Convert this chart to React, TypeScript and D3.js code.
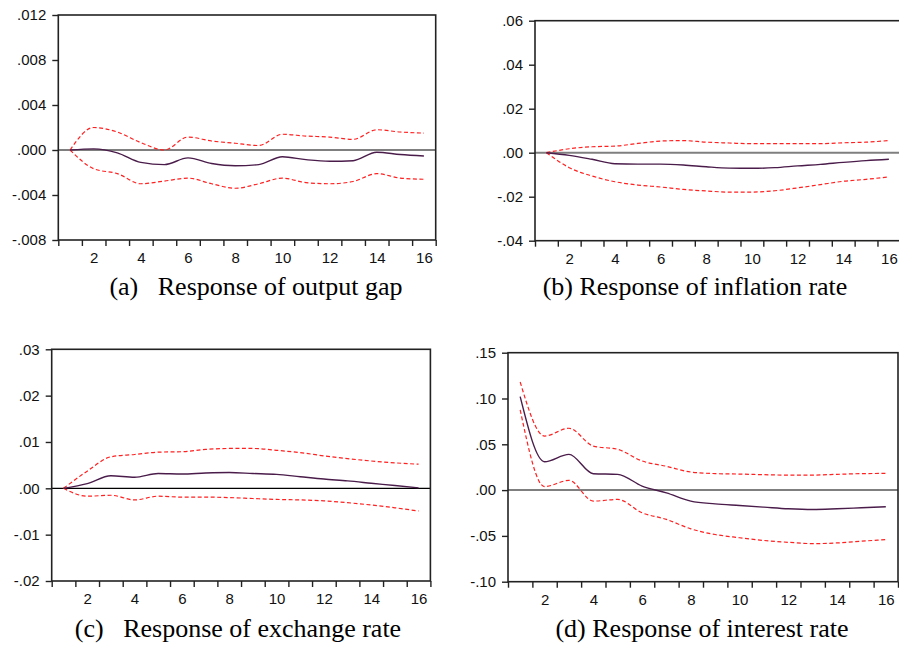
import React, { useRef, useEffect } from 'react';
import * as d3 from 'd3';

// impulse horizon 1..16
const periods = d3.range(1, 17);
const evenTicks = [2, 4, 6, 8, 10, 12, 14, 16];

// (a) output gap
const gapMid = [0, 0.0001, -0.00025, -0.0011, -0.0013, -0.0007, -0.0012, -0.0014, -0.0013, -0.0006, -0.00086, -0.001, -0.00095, -0.0002, -0.0004, -0.00053];
const gapUp = [0, 0.002, 0.0016, 0.00065, 0.0, 0.00115, 0.0008, 0.0006, 0.0004, 0.0014, 0.00124, 0.00115, 0.00095, 0.0018, 0.0016, 0.0015];
const gapLo = [0, -0.00166, -0.0021, -0.003, -0.00276, -0.0025, -0.003, -0.0034, -0.003, -0.0025, -0.0029, -0.003, -0.0028, -0.0021, -0.0025, -0.0026];
const gapTicks = [-0.008, -0.004, 0, 0.004, 0.008, 0.012];

// (b) inflation rate
const infMid = [0, -0.0012, -0.003, -0.005, -0.0052, -0.0052, -0.0056, -0.0064, -0.007, -0.0071, -0.0068, -0.006, -0.0053, -0.0044, -0.0036, -0.003];
const infUp = [0, 0.0018, 0.0027, 0.003, 0.0042, 0.0053, 0.0055, 0.0048, 0.0044, 0.0041, 0.0041, 0.0041, 0.0041, 0.0045, 0.0048, 0.0055];
const infLo = [0, -0.0068, -0.0106, -0.0132, -0.0147, -0.0156, -0.0167, -0.0174, -0.0179, -0.0179, -0.0173, -0.016, -0.0145, -0.013, -0.0121, -0.011];
const infTicks = [-0.04, -0.02, 0, 0.02, 0.04, 0.06];

// (c) exchange rate
const exMid = [0, 0.001, 0.0027, 0.0024, 0.0032, 0.0031, 0.0033, 0.0034, 0.0032, 0.003, 0.0025, 0.002, 0.0016, 0.0011, 0.0006, 0.0001];
const exUp = [0, 0.0037, 0.0068, 0.0073, 0.0078, 0.0079, 0.0084, 0.0086, 0.0086, 0.0082, 0.0077, 0.007, 0.0064, 0.0059, 0.0055, 0.0052];
const exLo = [0, -0.0017, -0.0015, -0.0025, -0.0017, -0.0019, -0.0019, -0.002, -0.0022, -0.0024, -0.0025, -0.0027, -0.0031, -0.0036, -0.0042, -0.0049];
const exTicks = [-0.02, -0.01, 0, 0.01, 0.02, 0.03];

// (d) interest rate
const intMid = [0.102, 0.031, 0.039, 0.0179, 0.0172, 0.0044, -0.003, -0.012, -0.015, -0.0168, -0.0186, -0.0204, -0.0212, -0.0204, -0.0193, -0.0182];
const intUp = [0.118, 0.059, 0.0675, 0.048, 0.0445, 0.0318, 0.026, 0.0197, 0.018, 0.0175, 0.0168, 0.0164, 0.0164, 0.0172, 0.018, 0.0182];
const intLo = [0.0876, 0.0038, 0.0106, -0.012, -0.0102, -0.0248, -0.032, -0.0423, -0.0485, -0.052, -0.055, -0.057, -0.0584, -0.0577, -0.0558, -0.054];
const intTicks = [-0.1, -0.05, 0, 0.05, 0.1, 0.15];

const panels = [
  { box: [58.3, 15, 435.7, 240], ticks: gapTicks, digits: 3, mid: gapMid, up: gapUp, lo: gapLo,
    zero: { color: '#7f7f7f', w: 2 }, title: '(a)   Response of output gap', tx: 256, ty: 295 },
  { box: [535, 20.7, 900.3, 240.7], ticks: infTicks, digits: 2, mid: infMid, up: infUp, lo: infLo,
    zero: { color: '#7f7f7f', w: 2 }, title: '(b) Response of inflation rate', tx: 695, ty: 295 },
  { box: [51.7, 349.3, 430.4, 581], ticks: exTicks, digits: 2, mid: exMid, up: exUp, lo: exLo,
    zero: { color: '#000', w: 1.2 }, title: '(c)   Response of exchange rate', tx: 238, ty: 637 },
  { box: [508, 352.7, 898, 581.7], ticks: intTicks, digits: 2, mid: intMid, up: intUp, lo: intLo,
    zero: { color: '#7f7f7f', w: 2 }, title: '(d) Response of interest rate', tx: 702, ty: 637 },
];

// EViews style: no leading zero, plain hyphen for negatives
const fmt = (digits: number) => (v: number) => {
  const sign = v < -1e-12 ? '-' : '';
  return sign + Math.abs(v).toFixed(digits).replace(/^0/, '');
};

export default function App() {
  const svgRef = useRef<SVGSVGElement>(null);

  useEffect(() => {
    const svg = d3.select(svgRef.current);
    svg.selectAll('*').remove();

    panels.forEach(p => {
      const [x0, y0, x1, y1] = p.box;
      const x = d3.scaleLinear().domain([0.5, 16.5]).range([x0, x1]);
      const y = d3.scaleLinear().domain([p.ticks[0], p.ticks[p.ticks.length - 1]]).range([y1, y0]);
      const g = svg.append('g');

      // zero line
      g.append('line')
        .attr('x1', x0).attr('x2', x1)
        .attr('y1', y(0)).attr('y2', y(0))
        .attr('stroke', p.zero.color).attr('stroke-width', p.zero.w);

      const line = d3.line<number>()
        .x((d, i) => x(periods[i]))
        .y(d => y(d))
        .curve(d3.curveMonotoneX);

      [p.up, p.lo].forEach(s => {
        g.append('path').attr('d', line(s)).attr('fill', 'none')
          .attr('stroke', '#ff2020').attr('stroke-width', 1.2)
          .attr('stroke-dasharray', '4,2.5');
      });
      g.append('path').attr('d', line(p.mid)).attr('fill', 'none')
        .attr('stroke', '#4a1c4a').attr('stroke-width', 1.4);

      // y axis
      const ya = g.append('g').attr('transform', `translate(${x0},0)`)
        .call(d3.axisLeft(y).tickValues(p.ticks).tickFormat(fmt(p.digits) as any).tickSize(6).tickPadding(6).tickSizeOuter(0));
      // x axis: tick marks between periods, labels on even periods
      const xa = g.append('g').attr('transform', `translate(0,${y1})`)
        .call(d3.axisBottom(x).tickValues(d3.range(0.5, 17, 1)).tickFormat(() => '').tickSize(6).tickSizeOuter(0));
      const xl = g.append('g').attr('transform', `translate(0,${y1})`)
        .call(d3.axisBottom(x).tickValues(evenTicks).tickSize(0).tickPadding(12.5).tickSizeOuter(0));
      [ya, xa, xl].forEach(a => {
        a.select('.domain').remove();
        a.selectAll('line').attr('stroke', '#222').attr('stroke-width', 1.4);
        a.selectAll('text').attr('font-family', 'Liberation Sans, Arial, sans-serif')
          .attr('font-size', 15).attr('fill', '#111');
      });

      // frame
      g.append('rect')
        .attr('x', x0).attr('y', y0)
        .attr('width', x1 - x0).attr('height', y1 - y0)
        .attr('fill', 'none').attr('stroke', '#222').attr('stroke-width', 1.6);

      // caption
      g.append('text')
        .attr('x', p.tx).attr('y', p.ty)
        .attr('text-anchor', 'middle')
        .attr('font-family', 'Liberation Serif, Times New Roman, serif')
        .attr('font-size', 26)
        .style('white-space', 'pre')
        .attr('fill', '#000')
        .text(p.title);
    });
  }, []);

  return (
    <svg ref={svgRef} width={899} height={645}
      style={{ position: 'absolute', left: 0, top: 0, background: 'white' }} />
  );
}
